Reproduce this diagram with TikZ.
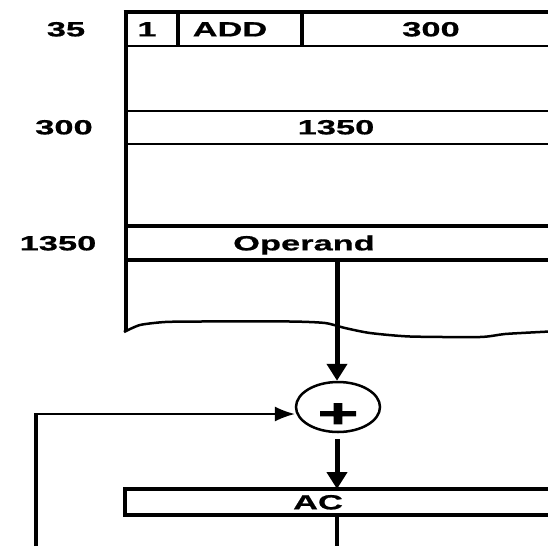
\documentclass[tikz,border=0pt]{standalone}
\usepackage{fontspec}
\usetikzlibrary{shapes.geometric,arrows.meta}
\newfontfamily\widefont{Liberation Sans}[FakeStretch=1.68,FakeBold=0.8]
\newfontfamily\plusfont{Liberation Sans}[FakeStretch=1.75,FakeBold=2.5]
\tikzset{
  lbl/.style={inner sep=0pt, text height=14.7pt, text depth=0pt,
    font=\widefont\bfseries\fontsize{20.5}{20.5}\selectfont},
  thinrule/.style={line width=2pt},
  thickrule/.style={line width=3.5pt},
  bigarrow/.style={line width=5pt, -{Triangle[length=17pt,width=20pt]}},
  fbarrow/.style={line width=1.5pt, -{Latex[length=20pt,width=15pt]}},
}
\begin{document}
\begin{tikzpicture}[x=1pt,y=-1pt]
\useasboundingbox (0,0) rectangle (548,546);
% memory block
\draw[line width=3.5pt] (123.5,12) -- (600,12);
\draw[line width=4pt] (125.5,10.5) -- (125.5,331);
\draw[line width=4pt] (177.5,12) -- (177.5,46);
\draw[line width=4pt] (302,12) -- (302,46);
\draw[thinrule] (125,46) -- (600,46);
\draw[thinrule] (125,111) -- (600,111);
\draw[thinrule] (125,144) -- (600,144);
\draw[thickrule] (125,226) -- (600,226);
\draw[thickrule] (125,260) -- (600,260);
\draw[line width=2.5pt, line join=round] plot[smooth, tension=0.4] coordinates
  {(124,332) (140,325) (165,322) (200,321.5) (290,321.5) (325,323) (345,328)
   (370,333) (410,336.5) (480,337) (505,334) (540,332) (560,331)};
% texts
\node[lbl] (a35) at (66,29) {35};
\node[lbl] (ind) at (147,29) {1};
\node[lbl] (op) at (230,29) {ADD};
\node[lbl] (addr) at (431,29) {300};
\node[lbl] (a300) at (64,127) {300};
\node[lbl] (v300) at (336,127) {1350};
\node[lbl] (a1350) at (58,243) {1350};
\node[lbl] (operand) at (304,243) {Operand};
% adder
\node[ellipse, draw, line width=2.5pt, minimum width=84pt, minimum height=50pt, inner sep=0pt] (sum) at (338,407) {};
\node[inner sep=0pt, anchor=base, font=\plusfont\bfseries\fontsize{40}{40}\selectfont] (plus) at (338,427) {+};
% AC register
\draw[line width=4pt] (125,489) rectangle (600,515);
\node[lbl] (ac) at (318,502) {AC};
\coordinate (opbot) at (337,260);
\coordinate (actop) at (337,489);
\coordinate (acbot) at (337,515);
\coordinate (bot) at (337,546);
\coordinate (fbbot) at (36,546);
\coordinate (fbcorner) at (36,414);
\draw[bigarrow] (opbot) -- (sum.north -| opbot);
\draw[bigarrow, shorten <=6pt] (sum.south -| opbot) -- (actop);
\draw[line width=4pt] (acbot) -- (bot);
\draw[line width=4.5pt] (fbbot) -- ([yshift=-1pt]fbcorner);
\draw[fbarrow] ([xshift=-2pt]fbcorner) -- (fbcorner -| sum.west);
\end{tikzpicture}
\end{document}
